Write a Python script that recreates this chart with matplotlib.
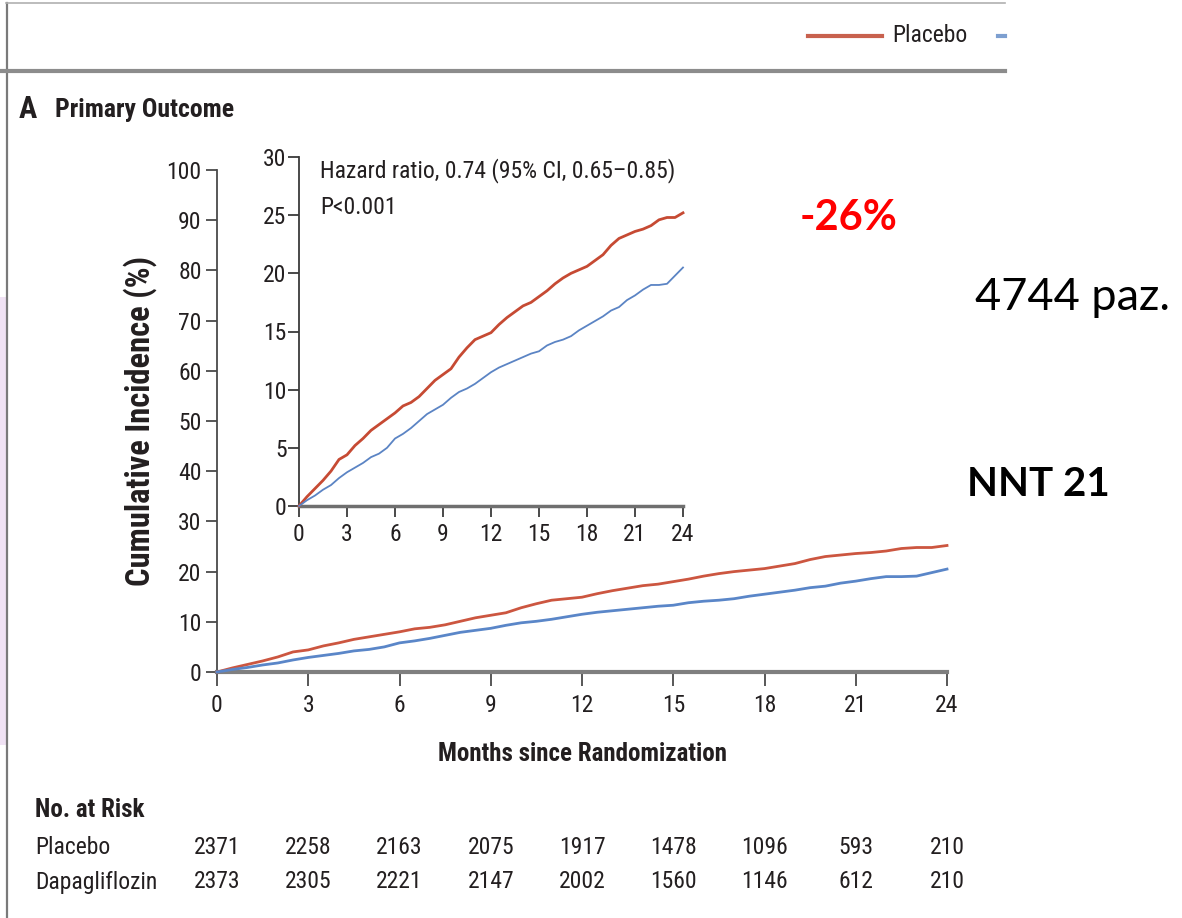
import matplotlib
matplotlib.use("Agg")
import matplotlib.pyplot as plt
from matplotlib import font_manager as fm
from matplotlib.lines import Line2D
from matplotlib.patches import Rectangle
from matplotlib.transforms import blended_transform_factory


def pick_family(names):
    for n in names:
        try:
            fm.findfont(fm.FontProperties(family=n), fallback_to_default=False)
            return n
        except ValueError:
            continue
    return "DejaVu Sans"


NARROW = pick_family(["Liberation Sans Narrow", "Roboto Condensed", "DejaVu Sans"])
SLIDE = pick_family(["Lato", "Open Sans", "Liberation Sans"])

# ---- data -------------------------------------------------------------
months = [0, 0.5, 1, 1.5, 2, 2.5, 3, 3.5, 4, 4.5, 5, 5.5, 6, 6.5, 7, 7.5, 8,
          8.5, 9, 9.5, 10, 10.5, 11, 11.5, 12, 12.5, 13, 13.5, 14, 14.5, 15,
          15.5, 16, 16.5, 17, 17.5, 18, 18.5, 19, 19.5, 20, 20.5, 21, 21.5,
          22, 22.5, 23, 23.5, 24]
placebo = [0, 0.8, 1.5, 2.2, 3.0, 4.0, 4.4, 5.2, 5.8, 6.5, 7.0, 7.5, 8.0, 8.6,
           8.9, 9.4, 10.1, 10.8, 11.3, 11.8, 12.8, 13.6, 14.3, 14.6, 14.9,
           15.6, 16.2, 16.7, 17.2, 17.5, 18.0, 18.5, 19.1, 19.6, 20.0, 20.3,
           20.6, 21.1, 21.6, 22.4, 23.0, 23.3, 23.6, 23.8, 24.1, 24.6, 24.8,
           24.8, 25.2]
dapagliflozin = [0, 0.5, 0.9, 1.4, 1.8, 2.4, 2.9, 3.3, 3.7, 4.2, 4.5, 5.0, 5.8,
                 6.2, 6.7, 7.3, 7.9, 8.3, 8.7, 9.3, 9.8, 10.1, 10.5, 11.0, 11.5,
                 11.9, 12.2, 12.5, 12.8, 13.1, 13.3, 13.8, 14.1, 14.3, 14.6,
                 15.1, 15.5, 15.9, 16.3, 16.8, 17.1, 17.7, 18.1, 18.6, 19.0,
                 19.0, 19.1, 19.8, 20.5]

risk_times = [0, 3, 6, 9, 12, 15, 18, 21, 24]
risk_placebo = [2371, 2258, 2163, 2075, 1917, 1478, 1096, 593, 210]
risk_dapa = [2373, 2305, 2221, 2147, 2002, 1560, 1146, 612, 210]

main_yticks = list(range(0, 101, 10))
inset_yticks = list(range(0, 31, 5))
xticks = list(range(0, 25, 3))

RED = "#c64a33"
BLUE = "#5b84c4"
TXT = "#231f20"

W, H = 1182, 918
fig = plt.figure(figsize=(W / 100, H / 100), dpi=100)
fig.patch.set_facecolor("white")


def fx(px):
    return px / W


def fy(py):
    return 1 - py / H


# ---- page frame ---------------------------------------------------------
fig.add_artist(Rectangle((0, fy(745)), fx(6), fy(297) - fy(745),
                         transform=fig.transFigure, facecolor="#f0e2f4",
                         edgecolor="none", zorder=0))
fig.add_artist(Line2D([fx(6.5), fx(6.5)], [0, fy(3)], transform=fig.transFigure,
                      color="#7a7a7a", lw=1.6))
fig.add_artist(Line2D([fx(6), fx(1005)], [fy(3), fy(3)],
                      transform=fig.transFigure, color="#b0b0b0", lw=1.2))
fig.add_artist(Line2D([0, fx(1005)], [fy(71), fy(71)],
                      transform=fig.transFigure, color="#8c8c8c", lw=3.0))

# legend strip
fig.add_artist(Line2D([fx(808), fx(882)], [fy(36), fy(36)],
                      transform=fig.transFigure, color="#c8614e", lw=3.0))
fig.text(fx(892), fy(36), "Placebo", family=NARROW, fontsize=17, color=TXT,
         ha="left", va="center")
fig.add_artist(Line2D([fx(998), fx(1005)], [fy(36), fy(36)],
                      transform=fig.transFigure, color="#7d9fd0", lw=3.0))

# panel heading
fig.text(fx(19), fy(109), "A", family=NARROW, fontsize=22, weight="bold",
         color=TXT, ha="left", va="center")
fig.text(fx(55), fy(110), "Primary Outcome", family=NARROW, fontsize=18.5,
         weight="bold", color=TXT, ha="left", va="center")

# ---- main axes ----------------------------------------------------------
ax = fig.add_axes([fx(217), fy(672), fx(947) - fx(217), fy(170) - fy(672)])
ax.plot(months, placebo, color="#cc5640", lw=2.0, clip_on=False, zorder=3)
ax.plot(months, dapagliflozin, color="#5a86c8", lw=2.0, clip_on=False,
        zorder=3)
ax.set_xlim(0, 24)
ax.set_ylim(0, 100)
ax.set_xticks(xticks)
ax.set_yticks(main_yticks)
for s in ("top", "right"):
    ax.spines[s].set_visible(False)
ax.spines["left"].set_color("#4a4a4a")
ax.spines["left"].set_linewidth(1.3)
ax.spines["bottom"].set_color("#7f7f7f")
ax.spines["bottom"].set_linewidth(3.0)
ax.tick_params(axis="y", direction="out", length=8, width=1.3,
               color="#4a4a4a", pad=3, labelsize=17, labelcolor=TXT)
ax.tick_params(axis="x", direction="out", length=10, width=1.3,
               color="#4a4a4a", pad=6, labelsize=17, labelcolor=TXT)
for lab in ax.get_xticklabels() + ax.get_yticklabels():
    lab.set_family(NARROW)
ax.set_ylabel("Cumulative Incidence (%)", family=NARROW, fontsize=23.5,
              weight="bold", color=TXT, labelpad=7)
ax.set_xlabel("Months since Randomization", family=NARROW, fontsize=18,
              weight="bold", color=TXT, labelpad=18)
ax.patch.set_alpha(0)

# ---- inset axes ---------------------------------------------------------
ins = fig.add_axes([fx(299), fy(506), fx(683) - fx(299), fy(157) - fy(506)])
ins.plot(months, placebo, color=RED, lw=2.0, clip_on=False, zorder=3)
ins.plot(months, dapagliflozin, color=BLUE, lw=1.3, clip_on=False, zorder=3)
ins.set_xlim(0, 24)
ins.set_ylim(0, 30)
ins.set_xticks(xticks)
ins.set_yticks(inset_yticks)
for s in ("top", "right"):
    ins.spines[s].set_visible(False)
ins.spines["left"].set_color("#3a3a3a")
ins.spines["left"].set_linewidth(1.3)
ins.spines["bottom"].set_color("#6f6f6f")
ins.spines["bottom"].set_linewidth(2.5)
ins.tick_params(axis="both", direction="out", length=8, width=1.3,
                color="#3a3a3a", labelsize=17, labelcolor=TXT)
ins.tick_params(axis="y", pad=1)
ins.tick_params(axis="x", pad=4)
for lab in ins.get_xticklabels() + ins.get_yticklabels():
    lab.set_family(NARROW)
ins.text(0.055, 0.96, "Hazard ratio, 0.74 (95% CI, 0.65\u20130.85)",
         transform=ins.transAxes, family=NARROW, fontsize=17, color=TXT,
         ha="left", va="center")
ins.text(0.055, 0.855, "P<0.001", transform=ins.transAxes, family=NARROW,
         fontsize=17, color=TXT, ha="left", va="center")

# ---- number at risk ---------------------------------------------------------
tr = blended_transform_factory(ax.transData, fig.transFigure)
fig.text(fx(35), fy(810), "No. at Risk", family=NARROW, fontsize=18,
         weight="bold", color=TXT, ha="left", va="center")
fig.text(fx(35), fy(847), "Placebo", family=NARROW, fontsize=17, color=TXT,
         ha="left", va="center")
fig.text(fx(35), fy(882), "Dapagliflozin", family=NARROW, fontsize=17,
         color=TXT, ha="left", va="center")
for t, p, d in zip(risk_times, risk_placebo, risk_dapa):
    fig.text(t, fy(847), str(p), transform=tr, family=NARROW, fontsize=17,
             color=TXT, ha="center", va="center")
    fig.text(t, fy(882), str(d), transform=tr, family=NARROW, fontsize=17,
             color=TXT, ha="center", va="center")

# ---- slide annotations ------------------------------------------------------
fig.text(fx(800), fy(218), "-26%", family=SLIDE, fontsize=30, weight="bold",
         color="#ff0000", ha="left", va="center")
fig.text(fx(975), fy(297), "4744 paz.", family=SLIDE, fontsize=32.5,
         color="black", ha="left", va="center")
fig.text(fx(967), fy(484), "NNT 21", family=SLIDE, fontsize=29,
         weight="bold", color="black", ha="left", va="center")

fig.savefig("out.png", dpi=100, facecolor="white")
